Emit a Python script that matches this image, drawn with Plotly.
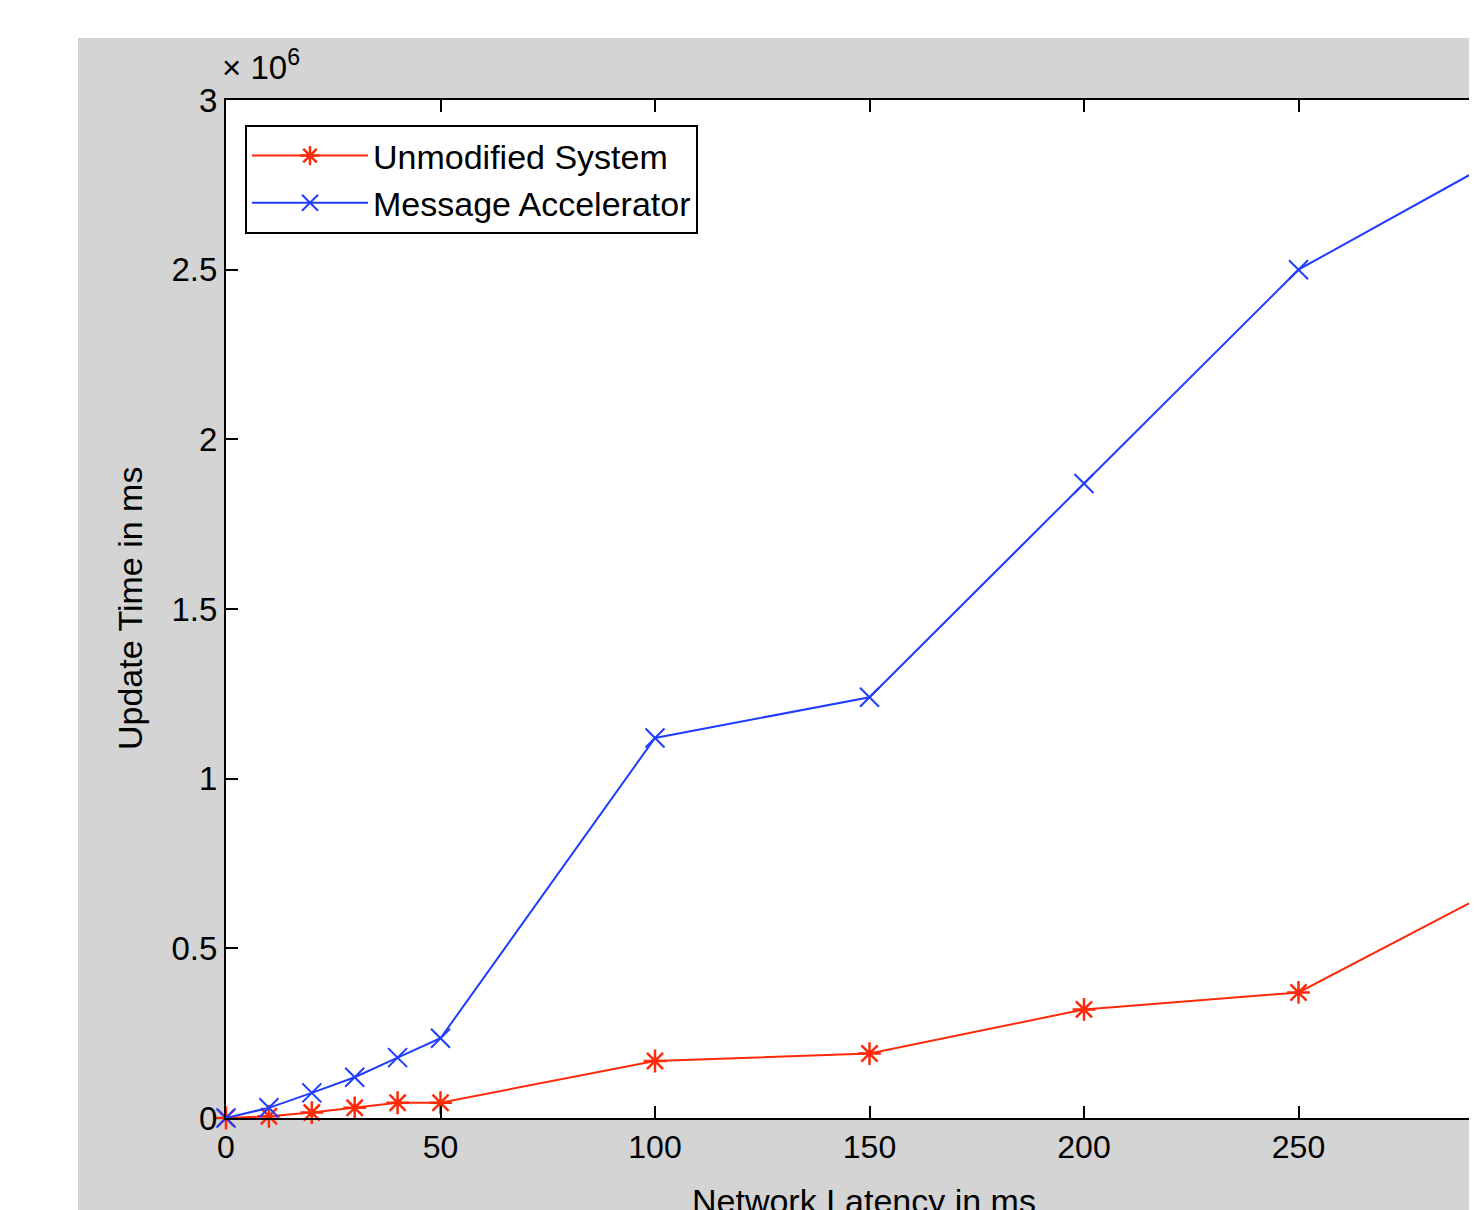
import plotly.graph_objects as go

latency = [0, 10, 20, 30, 40, 50, 100, 150, 200, 250, 300]
unmodified = [0.0, 0.005e6, 0.016e6, 0.03e6, 0.045e6, 0.045e6, 0.168e6, 0.19e6, 0.32e6, 0.37e6, 0.70e6]
accelerator = [0.0, 0.03e6, 0.074e6, 0.12e6, 0.178e6, 0.235e6, 1.12e6, 1.24e6, 1.87e6, 2.50e6, 2.85e6]
y_ticks = [0, 0.5e6, 1.0e6, 1.5e6, 2.0e6, 2.5e6, 3.0e6]
y_ticktext = ["0", "0.5", "1", "1.5", "2", "2.5", "3"]
x_ticks = [0, 50, 100, 150, 200, 250]

# page offset of the figure (body margin)
OFF = 8
W, H = 1469, 1202
L, T = 226 - OFF, 100 - OFF
B = H - (1118 - OFF)
R = 0
pw, ph = W - L - R, H - T - B

def px_x(p):
    # p in page pixels
    return (p - OFF - L) / pw

def px_y(p):
    return (H - B - (p - OFF)) / ph

FONT = "Liberation Sans"
RED = "#ff2a0a"
BLUE = "#1f3cff"

fig = go.Figure()
fig.add_trace(go.Scatter(
    x=latency, y=unmodified, name="Unmodified System", mode="lines+markers",
    line=dict(color=RED, width=2),
    marker=dict(symbol="asterisk-open", size=19, line=dict(color=RED, width=2.5)),
    cliponaxis=False,
))
fig.add_trace(go.Scatter(
    x=latency, y=accelerator, name="Message Accelerator", mode="lines+markers",
    line=dict(color=BLUE, width=2),
    marker=dict(symbol="x-thin-open", size=19, line=dict(color=BLUE, width=2)),
    cliponaxis=False,
))

fig.update_layout(
    width=W, height=H,
    margin=dict(l=L, r=R, t=T, b=B, pad=0),
    paper_bgcolor="#d4d4d4",
    plot_bgcolor="white",
    font=dict(family=FONT, size=32, color="black"),
    showlegend=True,
    legend=dict(
        x=px_x(245), y=px_y(125), xanchor="left", yanchor="top",
        bgcolor="white", bordercolor="black", borderwidth=2,
        font=dict(family=FONT, size=34, color="black"),
        itemwidth=116,
        tracegroupgap=0,
    ),
    xaxis=dict(
        range=[0, (W - L) / 4.29], tickvals=x_ticks, ticktext=[str(v) for v in x_ticks],
        showgrid=False, zeroline=False, showline=True, linecolor="black", linewidth=2,
        ticks="inside", ticklen=12, tickwidth=2, tickcolor="black", mirror="ticks",
        tickfont=dict(family=FONT, size=32),
    ),
    yaxis=dict(
        range=[0, 3e6], tickvals=y_ticks, ticktext=y_ticktext,
        showgrid=False, zeroline=False, showline=True, linecolor="black", linewidth=2,
        ticks="inside", ticklen=12, tickwidth=2, tickcolor="black", mirror=False,
        tickfont=dict(family=FONT, size=33),
    ),
    shapes=[
        dict(type="rect", xref="paper", yref="paper", x0=px_x(0), x1=px_x(W + 20),
             y0=px_y(0), y1=px_y(38), fillcolor="white", line=dict(width=0), layer="below"),
        dict(type="rect", xref="paper", yref="paper", x0=px_x(0), x1=px_x(78),
             y0=px_y(0), y1=px_y(H + 20), fillcolor="white", line=dict(width=0), layer="below"),
    ],
    annotations=[
        dict(text="× 10<sup>6</sup>", xref="paper", yref="paper", x=px_x(220), y=px_y(88),
             xanchor="left", yanchor="bottom", showarrow=False, font=dict(family=FONT, size=33)),
        dict(text="Network Latency in ms", xref="paper", yref="paper", x=px_x(864), y=px_y(1180),
             xanchor="center", yanchor="top", showarrow=False, font=dict(family=FONT, size=34)),
        dict(text="Update Time in ms", xref="paper", yref="paper", x=px_x(130), y=0.5,
             xanchor="center", yanchor="middle", textangle=-90, showarrow=False,
             font=dict(family=FONT, size=34)),
    ],
)

fig.write_html("out.html")
